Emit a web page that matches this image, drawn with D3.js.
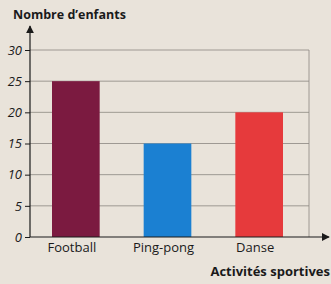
<!DOCTYPE html>
<html>
<head>
<meta charset="utf-8">
<script src="https://cdn.jsdelivr.net/npm/d3@7"></script>
<style>
  body { margin: 0; background: #e9e3da; }
  svg { display: block; font-family: "Open Sans", sans-serif; }
</style>
</head>
<body>
<div id="chart"></div>
<script>
(function() {

const w = 331;
const h = 284;

const categories = ["Football", "Ping-pong", "Danse"];
const values = [25, 15, 20];
const colours = ["#7b1a40", "#1b80d2", "#e63a3c"];
const yTicks = [0, 5, 10, 15, 20, 25, 30];

const xAxisX = 30;
const gridRight = 309;

var svg = d3.select("#chart")
    .append("svg")
    .attr("width", w)
    .attr("height", h);

var x = d3.scaleBand()
    .domain(categories)
    .range([30, 305])
    .paddingInner(0.48)
    .paddingOuter(0.24);

var y = d3.scaleLinear()
    .domain([0, 30])
    .range([237, 50]);

// gridlines
svg.selectAll("line.grid")
    .data(yTicks.slice(1))
    .enter()
    .append("line")
    .attr("class", "grid")
    .attr("x1", xAxisX)
    .attr("x2", gridRight)
    .attr("y1", function(d) { return y(d); })
    .attr("y2", function(d) { return y(d); })
    .attr("stroke", "#8a8680")
    .attr("stroke-width", 0.8);

svg.append("line")
    .attr("x1", gridRight)
    .attr("x2", gridRight)
    .attr("y1", y(30))
    .attr("y2", y(0))
    .attr("stroke", "#8a8680")
    .attr("stroke-width", 0.8);

// bars
svg.selectAll("rect.bar")
    .data(values)
    .enter()
    .append("rect")
    .attr("class", "bar")
    .attr("x", function(d, i) { return x(categories[i]); })
    .attr("y", function(d) { return y(d); })
    .attr("width", x.bandwidth())
    .attr("height", function(d) { return y(0) - y(d); })
    .attr("fill", function(d, i) { return colours[i]; });

// axes with arrows
svg.append("defs").append("marker")
    .attr("id", "arrow")
    .attr("viewBox", "0 0 10 10")
    .attr("refX", 9)
    .attr("refY", 5)
    .attr("markerWidth", 8)
    .attr("markerHeight", 8)
    .attr("markerUnits", "userSpaceOnUse")
    .attr("orient", "auto")
    .append("path")
    .attr("d", "M0,0L10,5L0,10Z")
    .attr("fill", "#1a1a1a");

svg.append("line")
    .attr("x1", xAxisX)
    .attr("x2", 329)
    .attr("y1", y(0))
    .attr("y2", y(0))
    .attr("stroke", "#1a1a1a")
    .attr("stroke-width", 1.2)
    .attr("marker-end", "url(#arrow)");

svg.append("line")
    .attr("x1", xAxisX)
    .attr("x2", xAxisX)
    .attr("y1", y(0))
    .attr("y2", 26)
    .attr("stroke", "#1a1a1a")
    .attr("stroke-width", 1.2)
    .attr("marker-end", "url(#arrow)");

// y ticks
var yAxis = d3.axisLeft(y)
    .tickValues(yTicks)
    .tickSize(5)
    .tickPadding(3);

var yg = svg.append("g")
    .attr("transform", "translate(" + xAxisX + ",0)")
    .call(yAxis);

yg.select(".domain").remove();
yg.selectAll("line").attr("stroke", "#1a1a1a");
yg.selectAll("text")
    .attr("font-size", 13)
    .attr("font-style", "italic")
    .attr("font-family", "Open Sans, sans-serif")
    .attr("fill", "#1a1a1a");

// x labels
var xAxis = d3.axisBottom(x).tickSize(0).tickPadding(6);
var xg = svg.append("g")
    .attr("transform", "translate(-4," + y(0) + ")")
    .call(xAxis);
xg.select(".domain").remove();
xg.selectAll("text")
    .attr("font-size", 13)
    .attr("font-family", "Open Sans, sans-serif")
    .attr("fill", "#1a1a1a");

// titles
svg.append("text")
    .attr("x", 13)
    .attr("y", 19)
    .attr("font-size", 12.5)
    .attr("font-weight", "bold")
    .attr("fill", "#1a1a1a")
    .text("Nombre d’enfants");

svg.append("text")
    .attr("x", 330)
    .attr("y", 276)
    .attr("text-anchor", "end")
    .attr("font-size", 13)
    .attr("font-weight", "bold")
    .attr("fill", "#1a1a1a")
    .text("Activités sportives");

})();
</script>
</body>
</html>
